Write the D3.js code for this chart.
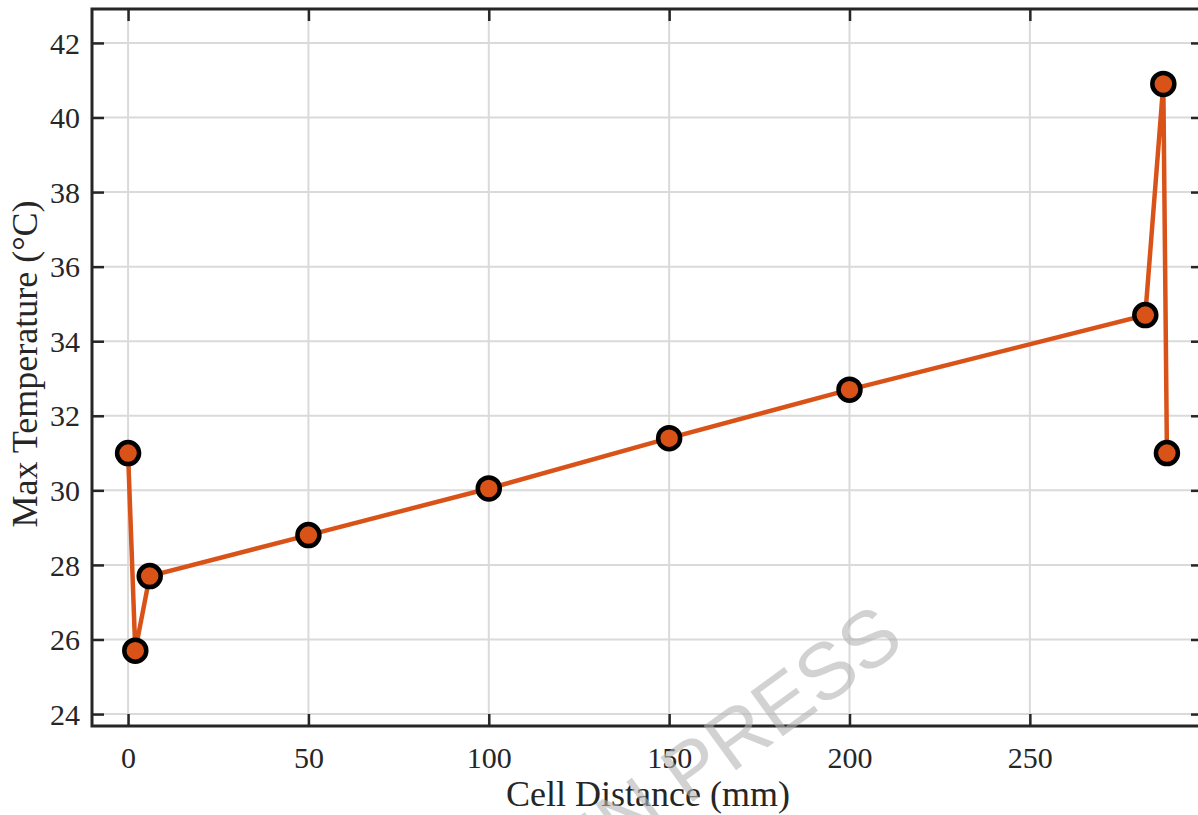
<!DOCTYPE html>
<html>
<head>
<meta charset="utf-8">
<script src="https://cdn.jsdelivr.net/npm/d3@7"></script>
<style>
  body { margin: 0; background: #fff; }
  svg { display: block; }
  .axis text { font-family: "Liberation Serif", "Times New Roman", serif; fill: #262626; }
</style>
</head>
<body>
<div id="chart"></div>
<script>
//Data
var cellDistance = [0, 2, 6, 50, 100, 150, 200, 282, 287, 288];
var maxTemperature = [31.0, 25.7, 27.7, 28.8, 30.05, 31.4, 32.7, 34.7, 40.9, 31.0];
var xTicks = [0, 50, 100, 150, 200, 250];
var yTicks = [24, 26, 28, 30, 32, 34, 36, 38, 40, 42];

var W = 1198, H = 815;
var lineColor = "#D95319";
var frameColor = "#262626";
var gridColor = "#dadada";
var tickLen = 12;

var plotLeft = 92, plotTop = 9, plotRight = 1203, plotBottom = 726;

var xScale = d3.scaleLinear().domain([-10, 298]).range([plotLeft, plotRight]);
var yScale = d3.scaleLinear().domain([23.68, 42.91]).range([plotBottom, plotTop]);

var svg = d3.select("#chart")
  .append("svg")
  .attr("width", W)
  .attr("height", H);

// grid lines
svg.append("g")
  .selectAll("line")
  .data(xTicks)
  .enter()
  .append("line")
  .attr("x1", function (d) { return xScale(d); })
  .attr("x2", function (d) { return xScale(d); })
  .attr("y1", plotTop)
  .attr("y2", plotBottom)
  .attr("stroke", gridColor)
  .attr("stroke-width", 2);

svg.append("g")
  .selectAll("line")
  .data(yTicks)
  .enter()
  .append("line")
  .attr("x1", plotLeft)
  .attr("x2", plotRight)
  .attr("y1", function (d) { return yScale(d); })
  .attr("y2", function (d) { return yScale(d); })
  .attr("stroke", gridColor)
  .attr("stroke-width", 2);

// axes, ticks pointing inward on every side
var xAxis = d3.axisBottom(xScale).tickValues(xTicks).tickSizeInner(-tickLen).tickSizeOuter(0).tickPadding(21);
var yAxis = d3.axisLeft(yScale).tickValues(yTicks).tickSizeInner(-tickLen).tickSizeOuter(0).tickPadding(12);
var xAxisTop = d3.axisTop(xScale).tickValues(xTicks).tickSizeInner(-tickLen).tickSizeOuter(0).tickFormat("");
var yAxisRight = d3.axisRight(yScale).tickValues(yTicks).tickSizeInner(-tickLen).tickSizeOuter(0).tickFormat("");

function styleAxis (g){
  g.select(".domain").remove();
  g.selectAll(".tick line").attr("stroke", frameColor).attr("stroke-width", 2.5);
  g.selectAll(".tick text").style("font-size", "30px");
}

svg.append("g").attr("class", "x axis")
  .attr("transform", "translate(0," + plotBottom + ")")
  .call(xAxis).call(styleAxis);

svg.append("g").attr("class", "y axis")
  .attr("transform", "translate(" + plotLeft + ",0)")
  .call(yAxis).call(styleAxis);

svg.select(".y.axis").selectAll(".tick text").attr("dy", "0.34em");

svg.append("g").attr("class", "axis")
  .attr("transform", "translate(0," + plotTop + ")")
  .call(xAxisTop).call(styleAxis);

svg.append("g").attr("class", "axis")
  .attr("transform", "translate(" + plotRight + ",0)")
  .call(yAxisRight).call(styleAxis);

// frame
svg.append("rect")
  .attr("x", plotLeft)
  .attr("y", plotTop)
  .attr("width", plotRight - plotLeft)
  .attr("height", plotBottom - plotTop)
  .attr("fill", "none")
  .attr("stroke", frameColor)
  .attr("stroke-width", 3);

// axis titles
svg.append("text")
  .attr("x", 648)
  .attr("y", 806)
  .attr("text-anchor", "middle")
  .style("font-family", "'Liberation Serif', 'Times New Roman', serif")
  .style("font-size", "36px")
  .style("fill", "#262626")
  .text("Cell Distance (mm)");

svg.append("text")
  .attr("transform", "translate(37,364) rotate(-90)")
  .attr("text-anchor", "middle")
  .style("font-family", "'Liberation Serif', 'Times New Roman', serif")
  .style("font-size", "36px")
  .style("fill", "#262626")
  .text("Max Temperature (\u00B0C)");

// series
var points = cellDistance.map(function (d, i){
  return {x: d, y: maxTemperature[i]};
});

var line = d3.line()
  .x(function (d) { return xScale(d.x); })
  .y(function (d) { return yScale(d.y); });

svg.append("path")
  .datum(points)
  .attr("d", line)
  .attr("fill", "none")
  .attr("stroke", lineColor)
  .attr("stroke-width", 4.5);

svg.append("g")
  .selectAll("circle")
  .data(points)
  .enter()
  .append("circle")
  .attr("cx", function (d) { return xScale(d.x); })
  .attr("cy", function (d) { return yScale(d.y); })
  .attr("r", 11)
  .attr("fill", lineColor)
  .attr("stroke", "#000")
  .attr("stroke-width", 4.5);

// watermark
svg.append("text")
  .attr("transform", "translate(907,646) rotate(-36)")
  .attr("text-anchor", "end")
  .style("font-family", "'Liberation Sans', Arial, sans-serif")
  .style("font-size", "80px")
  .style("fill", "#b4b4b4")
  .style("fill-opacity", 0.6)
  .text("ARTICLE IN PRESS");
</script>
</body>
</html>
